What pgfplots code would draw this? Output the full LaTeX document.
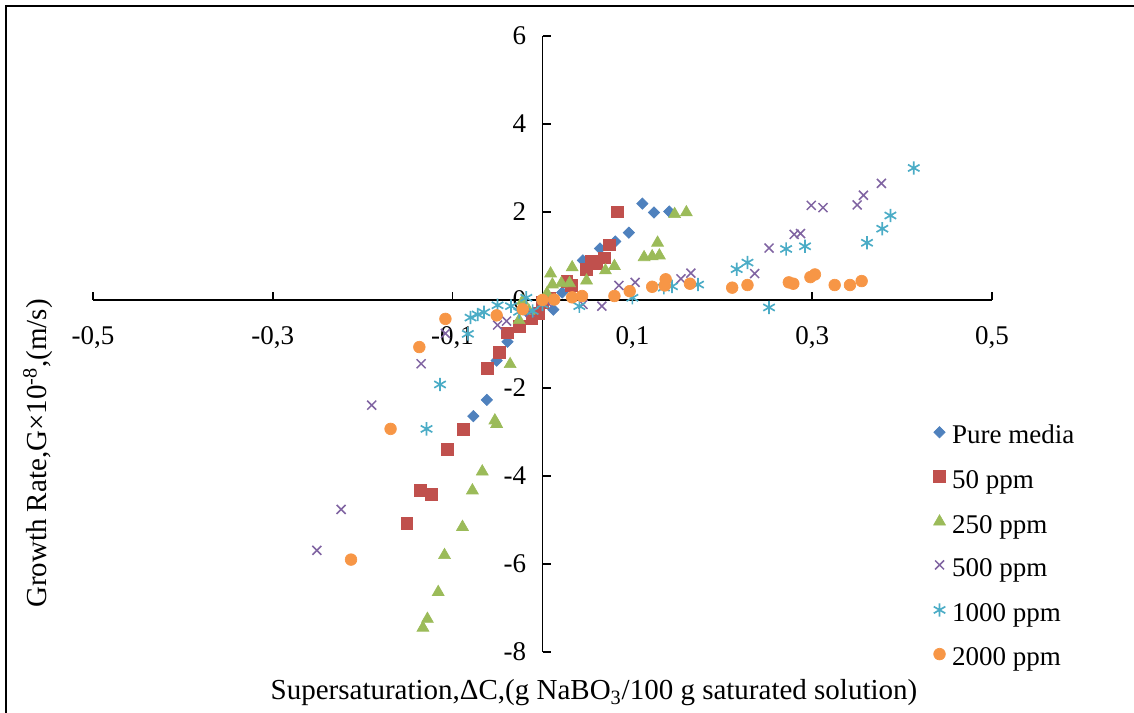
\documentclass[border=0pt]{standalone}
\usepackage{fontspec}
\setmainfont{Liberation Serif}
\usepackage{pgfplots}
\pgfplotsset{compat=1.18}
\definecolor{cblue}{HTML}{4F81BD}
\definecolor{cred}{HTML}{C0504D}
\definecolor{cgreen}{HTML}{9BBB59}
\definecolor{cpurple}{HTML}{8064A2}
\definecolor{caqua}{HTML}{4BACC6}
\definecolor{corange}{HTML}{F79646}
\newcommand{\chartfont}{\fontsize{16.2}{19}\selectfont}
\newcommand{\titlefont}{\fontsize{17.4}{20}\selectfont}
\begin{document}
\begin{tikzpicture}
\useasboundingbox (0,0) rectangle (680.4pt,427.8pt);
\draw[line width=1.2pt] (3.6pt,-5pt) -- (3.6pt,424.2pt) -- (690pt,424.2pt);
\begin{axis}[
  at={(55.8pt,36.6pt)}, anchor=south west,
  scale only axis, width=539.4pt, height=369.6pt,
  xmin=-0.5, xmax=0.5, ymin=-8, ymax=6,
  axis lines=middle,
  axis line style={line width=1pt,-},
  tick align=inside, major tick length=4.8pt,
  tick style={line width=1pt, black},
  xtick={-0.5,-0.3,-0.1,0.1,0.3,0.5},
  xticklabels={{-0,5},{-0,3},{-0,1},{0,1},{0,3},{0,5}},
  ytick={-8,-6,-4,-2,0,2,4,6},
  yticklabels={-8,-6,-4,-2,0,2,4,6},
  hide obscured x ticks=false, hide obscured y ticks=false,
  tick label style={font=\chartfont},
  xticklabel style={inner sep=0pt, anchor=north, yshift=-16pt},
  yticklabel style={inner sep=0pt, anchor=east, xshift=-9.6pt},
  every axis x label/.style={at={(rel axis cs:0.5573,-0.0779)}, anchor=base, font=\titlefont},
  every axis y label/.style={at={(rel axis cs:-0.0512,0.3222)}, anchor=base, rotate=90, font=\titlefont},
  xlabel={Supersaturation,ΔC,(g NaBO\textsubscript{3}/100 g saturated solution)},
  ylabel={Growth Rate,G×10\textsuperscript{-8},(m/s)},
  legend style={at={(rel axis cs:0.9347,0.3664)}, anchor=north west, draw=none, fill=none,
    font=\chartfont, inner sep=0pt, row sep=13.0pt, column sep=4pt,
    nodes={inner sep=0pt, text height=10pt, text depth=3pt}},
  legend cell align=left,
  legend image code/.code={\draw[mark repeat=2,mark phase=2,#1] plot coordinates {(0pt,3.5pt) (4pt,3.5pt) (8pt,3.5pt)};},
]
\addplot[only marks, mark=square*, mark size=2.4pt, mark options={rotate=45, fill=cblue, draw=cblue}] coordinates {
(-0.077,-2.64) (-0.062,-2.27) (-0.051,-1.38) (-0.039,-0.95) (-0.015,-0.30) (0.012,-0.22)
(0.022,0.17) (0.045,0.90) (0.064,1.17) (0.081,1.33) (0.096,1.53) (0.111,2.19) (0.124,1.99) (0.141,2.01)
};
\addlegendentry{Pure media}
\addplot[only marks, mark=square*, mark size=3.5pt, mark options={fill=cred, draw=cred}] coordinates {
(-0.151,-5.08) (-0.136,-4.33) (-0.124,-4.41) (-0.106,-3.39) (-0.088,-2.94) (-0.061,-1.55)
(-0.048,-1.19) (-0.039,-0.75) (-0.026,-0.60) (-0.012,-0.42) (-0.005,-0.30) (0.000,-0.05)
(0.008,0.05) (0.027,0.42) (0.032,0.33) (0.049,0.70) (0.054,0.88) (0.060,0.82) (0.069,0.96)
(0.074,1.25) (0.083,2.00)
};
\addlegendentry{50 ppm}
\addplot[only marks, mark=triangle*, mark size=4.1pt, mark options={fill=cgreen, draw=cgreen}] coordinates {
(-0.133,-7.45) (-0.128,-7.25) (-0.116,-6.64) (-0.109,-5.80) (-0.089,-5.16) (-0.078,-4.33)
(-0.067,-3.90) (-0.053,-2.74) (-0.051,-2.82) (-0.036,-1.46) (-0.026,-0.46) (-0.022,-0.02)
(-0.015,-0.25) (0.005,0.15) (0.009,0.60) (0.011,0.35) (0.021,0.38) (0.030,0.38) (0.033,0.74)
(0.049,0.44) (0.070,0.67) (0.080,0.77) (0.113,0.97) (0.122,0.99) (0.130,1.01) (0.128,1.30)
(0.147,1.95) (0.160,1.99)
};
\addlegendentry{250 ppm}
\addplot[only marks, mark=x, mark size=3.8pt, mark options={draw=cpurple, line width=0.9pt}] coordinates {
(-0.251,-5.69) (-0.224,-4.76) (-0.190,-2.39) (-0.135,-1.45) (-0.108,-0.76) (-0.050,-0.57)
(-0.040,-0.48) (-0.014,-0.28) (0.005,-0.05) (0.045,-0.10) (0.066,-0.14) (0.085,0.33)
(0.103,0.40) (0.154,0.48) (0.165,0.61) (0.236,0.60) (0.252,1.18) (0.280,1.49) (0.287,1.51)
(0.299,2.15) (0.312,2.10) (0.350,2.16) (0.357,2.38) (0.377,2.65)
};
\addlegendentry{500 ppm}
\addplot[only marks, mark=asterisk, mark size=4pt, mark options={draw=caqua, line width=1pt}] coordinates {
(-0.129,-2.93) (-0.114,-1.92) (-0.083,-0.77) (-0.080,-0.40) (-0.072,-0.33) (-0.065,-0.28)
(-0.050,-0.12) (-0.035,-0.14) (-0.026,-0.27) (-0.018,0.05) (-0.011,-0.25) (0.000,-0.10)
(0.041,-0.14) (0.100,0.05) (0.135,0.28) (0.144,0.31) (0.173,0.35) (0.216,0.70) (0.228,0.85)
(0.252,-0.17) (0.271,1.16) (0.292,1.22) (0.361,1.30) (0.378,1.62) (0.387,1.92) (0.413,3.00)
};
\addlegendentry{1000 ppm}
\addplot[only marks, mark=*, mark size=3.5pt, mark options={fill=corange, draw=corange}] coordinates {
(-0.213,-5.90) (-0.169,-2.93) (-0.137,-1.07) (-0.108,-0.43) (-0.051,-0.35) (-0.022,-0.21)
(0.000,0.00) (0.013,0.01) (0.033,0.06) (0.044,0.09) (0.080,0.09) (0.097,0.20) (0.122,0.30)
(0.136,0.33) (0.137,0.47) (0.164,0.37) (0.211,0.28) (0.228,0.34) (0.274,0.40) (0.279,0.37)
(0.298,0.52) (0.303,0.58) (0.325,0.34) (0.342,0.34) (0.355,0.43)
};
\addlegendentry{2000 ppm}
\end{axis}
\end{tikzpicture}
\end{document}
